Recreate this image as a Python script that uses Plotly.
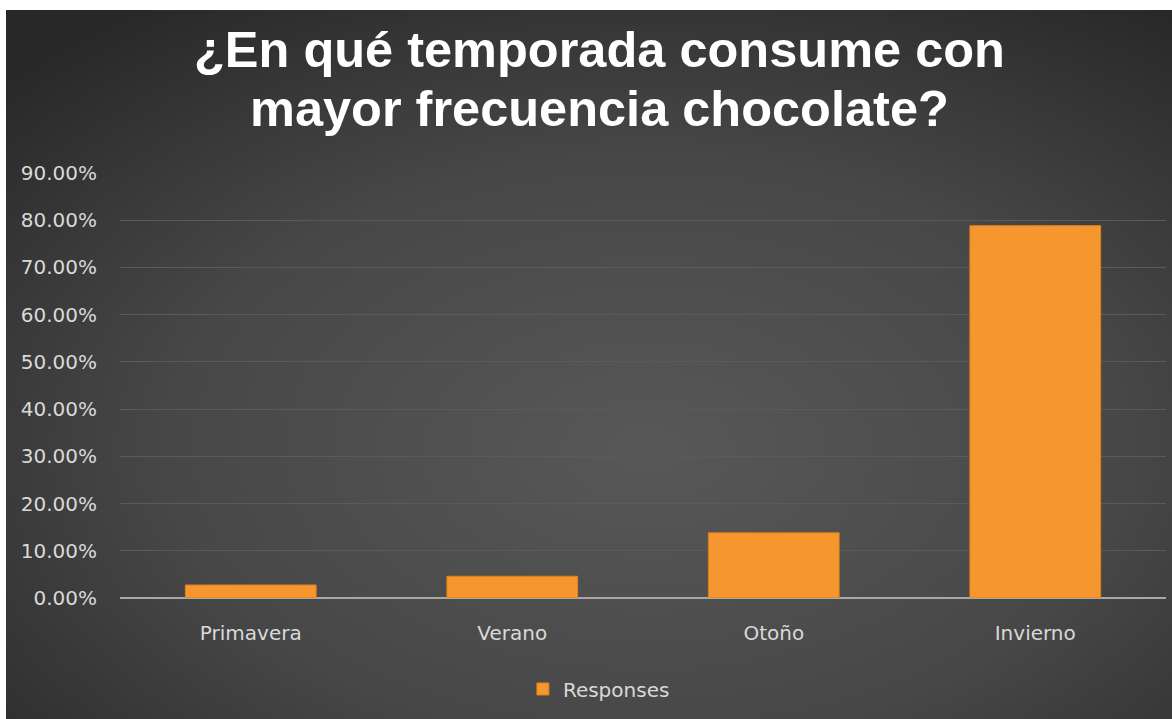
import base64
import plotly.graph_objects as go

# Survey data
seasons = ["Primavera", "Verano", "Otoño", "Invierno"]
responses = [0.0275, 0.046, 0.138, 0.7885]
series_name = "Responses"
title_lines = ["¿En qué temporada consume con", "mayor frecuencia chocolate?"]
y_ticks = [0.0, 0.1, 0.2, 0.3, 0.4, 0.5, 0.6, 0.7, 0.8, 0.9]

# Page geometry (pixels)
W, H = 1172, 719
ML, MR, MT, MB = 120, 6, 173, 121
PW, PH = W - ML - MR, H - MT - MB
CARD_X0, CARD_Y0 = 6, 10  # white frame around the dark card

TEXT = "#d9d9d9"
BAR = "#f6962f"

# Dark card with a soft radial glow
svg = """<svg xmlns='http://www.w3.org/2000/svg' width='1166' height='709' preserveAspectRatio='none'>
<defs><radialGradient id='g' cx='55%' cy='62%' r='75%'>
<stop offset='0' stop-color='#585858'/><stop offset='0.55' stop-color='#474747'/>
<stop offset='1' stop-color='#292929'/></radialGradient></defs>
<rect width='1166' height='709' fill='url(#g)'/></svg>"""
bg_src = "data:image/svg+xml;base64," + base64.b64encode(svg.encode()).decode()


def px_to_paper_x(px):
    return (px - ML) / PW


def px_to_paper_y(py):
    return (H - MB - py) / PH


fig = go.Figure()
fig.add_trace(go.Bar(
    x=seasons,
    y=responses,
    name=series_name,
    marker=dict(color=BAR, line=dict(color="#e0801c", width=1)),
    width=0.5,
    showlegend=True,
))

fig.add_layout_image(dict(
    source=bg_src,
    xref="paper", yref="paper",
    x=px_to_paper_x(CARD_X0), y=px_to_paper_y(CARD_Y0),
    sizex=(W - CARD_X0) / PW, sizey=(H - CARD_Y0) / PH,
    xanchor="left", yanchor="top",
    sizing="stretch", layer="below",
))

# Two-line title
for line, cy in zip(title_lines, [49, 108]):
    fig.add_annotation(
        text=line, xref="paper", yref="paper",
        x=px_to_paper_x(599), y=px_to_paper_y(cy),
        xanchor="center", yanchor="middle", showarrow=False,
        font=dict(family="Liberation Sans", size=50.5, color="#ffffff", weight="bold"),
    )

fig.update_layout(
    width=W, height=H,
    margin=dict(l=ML, r=MR, t=MT, b=MB, pad=0),
    paper_bgcolor="#ffffff",
    plot_bgcolor="rgba(0,0,0,0)",
    font=dict(family="DejaVu Sans", size=18, color=TEXT),
    bargap=0.5,
    legend=dict(
        orientation="h", xref="container", yref="container",
        x=0.511, y=1 - 689 / H, xanchor="center", yanchor="middle",
        font=dict(family="DejaVu Sans", size=20, color=TEXT),
        bgcolor="rgba(0,0,0,0)",
        itemwidth=30,
    ),
)

fig.update_yaxes(
    range=[0, 0.9],
    tickvals=y_ticks,
    tickformat=".2%",
    showgrid=True, gridcolor="#5a5a5a", gridwidth=1,
    zeroline=True, zerolinecolor="#a8a8a8", zerolinewidth=2,
    showline=False, ticks="",
    ticklabelstandoff=22,
    tickfont=dict(family="DejaVu Sans", size=20, color=TEXT),
    fixedrange=True,
)
fig.update_xaxes(
    showgrid=False, showline=False, ticks="",
    ticklabelstandoff=21,
    tickfont=dict(family="DejaVu Sans", size=20, color=TEXT),
    fixedrange=True,
)

fig.write_html("out.html")
